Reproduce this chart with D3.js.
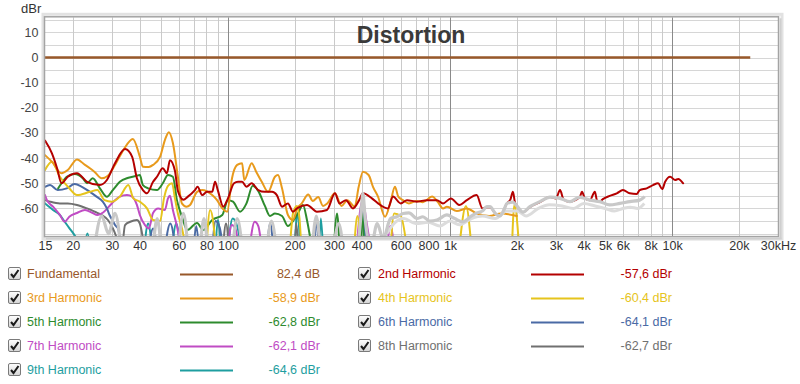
<!DOCTYPE html>
<html><head><meta charset="utf-8">
<script src="https://cdn.jsdelivr.net/npm/d3@7"></script>
<style>
html,body{margin:0;padding:0;background:#fff;}
svg{display:block;font-family:"Liberation Sans",Arial,sans-serif;}
</style></head>
<body>
<svg id="chart" width="800" height="384"></svg>
<script>
// ---------- DATA ----------
const xTickValues = [15,20,30,40,60,80,100,200,300,400,600,800,1000,2000,3000,4000,5000,6000,8000,10000,20000,30000];
const xTickLabels = ["15","20","30","40","60","80","100","200","300","400","600","800","1k","2k","3k","4k","5k","6k","8k","10k","20k","30kHz"];
const xGridMinor = [20,30,40,50,60,70,80,90,200,300,400,500,600,700,800,900,2000,3000,4000,5000,6000,7000,8000,9000,20000];
const xGridMajor = [100,1000,10000];
const yTickValues = [10,0,-10,-20,-30,-40,-50,-60];
const yGridValues = [15,10,5,0,-5,-10,-15,-20,-25,-30,-35,-40,-45,-50,-55,-60,-65,-70];

const seriesNames = ["Fundamental","2nd Harmonic","3rd Harmonic","4th Harmonic","5th Harmonic","6th Harmonic","7th Harmonic","8th Harmonic","9th Harmonic"];
const seriesValues = ["82,4 dB","-57,6 dBr","-58,9 dBr","-60,4 dBr","-62,8 dBr","-64,1 dBr","-62,1 dBr","-62,7 dBr","-64,6 dBr"];
const seriesColors = ["#98582a","#b40000","#e89a1c","#e6c41c","#2e8b2e","#4a6aa5","#c04cc4","#707070","#1e9ea0"];

const fundamental = [[15,0],[22500,0]];
const h2 = [[15,-33],[16.1,-38],[17,-44],[17.8,-50],[19,-47.4],[20.9,-46],[23.2,-49.4],[26.5,-50.7],[28.5,-48.7],[31,-42],[34.4,-36.4],[37,-39.4],[38.9,-48],[41.4,-52.7],[43.2,-54],[46,-49.4],[47.9,-47.4],[50.9,-44],[53.1,-46],[54.8,-40.8],[57.7,-45],[59.5,-53],[63,-56.5],[66,-55.3],[71,-52.7],[73,-51.4],[76.5,-54.7],[80.5,-53.4],[84.9,-53.4],[87.5,-49.4],[90,-52.7],[95.3,-59.3],[100,-56],[106.5,-50],[111,-49.4],[115.8,-49.4],[121.2,-51.4],[127.9,-50],[136.8,-52.7],[146.7,-53.4],[158,-53.4],[166,-54.7],[175.2,-59.3],[186.3,-58],[196.3,-61.3],[204.5,-60],[226.9,-58.6],[251.6,-61.3],[279.2,-60.6],[303.4,-54],[318,-58],[340,-56.7],[365.6,-60],[390,-56.7],[405.6,-54],[445,-56],[474,-58],[525,-60],[553.7,-55.3],[600,-58],[640,-56.7],[709,-57.3],[787,-56.7],[873,-56.7],[930,-58],[1010,-56],[1100,-58.6],[1191,-56.7],[1318,-54.7],[1400,-60],[1465,-59.5],[1513,-59.5],[1600,-62],[1678,-63],[1760,-60],[1803,-58],[1870,-56.5],[1920,-53.4],[1960,-57.5],[2000,-59],[2130,-61.5],[2290,-59.5],[2540,-57.5],[2820,-55.5],[3000,-56],[3130,-52.7],[3250,-56.5],[3470,-57.3],[3840,-55.5],[3930,-53.4],[4050,-56],[4270,-56.7],[4490,-53.4],[4600,-57],[4730,-57.3],[4880,-56.3],[5240,-55],[5640,-54],[6010,-52.7],[6450,-54],[6930,-54.3],[7150,-52.7],[7690,-52],[8210,-50.7],[8650,-50],[9030,-52.3],[9310,-49.4],[9800,-47.4],[10330,-48.7],[10660,-48.3],[11220,-50]];
const h3 = [[15,-38.8],[16.1,-41.4],[17.8,-46],[19,-44.7],[20.9,-40.5],[22.7,-42.7],[23.9,-44],[25.1,-45.5],[27,-48],[28.8,-47],[31,-42.7],[33.8,-36.8],[37.3,-32.4],[40.1,-39.4],[41.4,-43.4],[44,-43.5],[46,-42.7],[49.5,-39.4],[52,-32.8],[54.2,-29.7],[56.5,-34],[59.5,-47.4],[62,-58],[65,-59.3],[67.5,-58.6],[72.6,-53.4],[76.5,-52.7],[84.9,-54.7],[89.3,-56.7],[94.3,-60],[99.2,-61.3],[104.3,-48],[110,-42.7],[115.8,-42],[118.5,-48.7],[127.9,-42],[134,-45.4],[142,-49.4],[151.7,-53.4],[162.8,-47.4],[168,-46.7],[175.2,-52],[186.3,-62.6],[196.3,-64.6],[205,-60],[215,-58],[230,-54.5],[241,-57],[255,-55.5],[268,-59],[280,-58],[303,-54],[325,-59],[345,-56.7],[372,-59.3],[388,-51.4],[405.6,-45.4],[430,-46.7],[450,-51.4],[474,-55.3],[510,-63.3],[540,-57.3],[565,-51.4],[585,-55.3],[614,-56.7],[653,-58],[709,-57],[755,-57.5],[830,-55.3],[882,-57.5],[930,-60],[968,-59.3],[1074,-61],[1191,-60],[1318,-62],[1500,-63],[1700,-62],[2000,-63]];
const h4 = [[15,-44.7],[16.1,-41.4],[17.5,-47.4],[19.3,-52],[20.9,-54.7],[23.9,-53.4],[25.8,-52.7],[27.8,-56.7],[30,-57.3],[32.6,-55.3],[35.6,-50.7],[37.5,-56],[40.1,-57.3],[43.2,-60],[46,-64.6],[49.5,-65],[51.5,-56],[53.7,-51],[56,-50],[57.7,-56],[59.5,-62],[62.1,-68],[64.1,-74],null,[80,-76],[83.1,-60.6],[86,-66],[88,-76],null,[190,-76],[196.3,-62],[204.5,-59],[210,-64],[214,-76],null,[370,-76],[383,-63],[395,-76],null,[540,-76],[560,-62],[600,-63],[640,-76],null,[1100,-76],[1180,-59],[1250,-76],null,[1900,-76],[1950,-58.5],[2050,-76]];
const h5 = [[17.2,-52],[17.8,-50],[18.8,-47.4],[20.4,-46.3],[22.2,-48],[23.2,-50],[24.6,-48],[26.5,-52],[28.5,-55.4],[30.3,-52.7],[32.6,-49.4],[35.6,-47.8],[38.9,-47],[40.1,-46.7],[41.4,-50.7],[43.7,-52],[47.9,-52.7],[50.9,-50],[53.7,-46.7],[56.5,-47.4],[58.9,-56.7],[62.1,-63.3],[65.5,-68.6],[72.6,-65.8],[77.3,-68.6],[84.9,-64.6],[94.3,-62.6],[100,-56.7],[105.4,-57.3],[113.4,-61.3],[121.2,-58],[129.3,-51],[136.8,-53],[146.7,-59],[154.6,-63],[162.8,-62],[175.2,-63],[186.3,-67],[196.3,-65],[206.6,-62],[217.7,-58.6],[226.9,-64.6],[235,-72],null,[300,-76],[310,-62],[318,-76],null,[395,-76],[403,-62],[410,-76]];
const h6 = [[15,-51.4],[15.8,-50.7],[17.1,-52.7],[18.8,-52],[20.4,-50.3],[22,-51.4],[23.9,-53.4],[25.6,-55.3],[27.3,-57.3],[28.5,-60],[29.3,-62.6],[30.3,-65],[31,-66.6],[32,-68],[33,-76],null,[44,-76],[46,-68],[48,-76],null,[52,-76],[55,-66],[58,-76],null,[70,-76],[72,-67],[74,-76],null,[85,-76],[88,-65],[92,-68],[95,-76],null,[150,-76],[155,-66],[160,-76],null,[245,-76],[250,-64],[256,-76],null,[395,-76],[405,-60],[420,-76]];
const h7 = [[15,-54.7],[15.3,-56.7],[16.3,-59.3],[17.5,-62.6],[18.4,-65.3],[19.3,-63.3],[20.9,-61.8],[22.7,-60.6],[24.6,-61.8],[25.8,-62.6],[27.5,-61.5],[30,-58],[32.6,-55.3],[35.1,-54.7],[37,-55.3],[38.9,-58.6],[40.1,-62.6],[42.3,-66.6],[44,-68],[46,-61.8],[48.5,-60],[52,-60.6],[53.7,-56],[54.8,-55],[56.5,-60.6],[58.9,-67],[61,-74],null,[100,-76],[104,-66.6],[108,-68],[112,-76],null,[125,-76],[132,-65.3],[137,-67],[142,-76],null,[380,-76],[395,-60],[405,-56.7],[420,-65],[440,-76],null,[520,-76],[540,-67],[560,-76]];
const h8 = [[15,-56.7],[15.8,-57.3],[17.5,-58],[19,-58],[20.9,-58.6],[23.2,-60],[25.1,-61.3],[27,-62.6],[28.8,-64.6],[30.3,-67.8],[31.6,-72],[32.5,-76],null,[33.5,-76],[34.4,-66.6],[36.3,-65.3],[38.9,-64.6],[40.1,-66],[41.4,-72],[42,-76],null,[95,-76],[98,-66],[101,-76],null,[200,-76],[203,-66],[208,-76]];
const h9 = [[15,-58],[15.3,-58.6],[16.3,-60.6],[17.5,-62.6],[18.4,-65.3],[19.3,-67.8],[20.4,-70.7],[21.5,-74],null,[22.5,-76],[23.3,-70],[24,-76],null,[42,-76],[43.7,-66],[45.5,-76],null,[56,-76],[58.5,-66],[61,-76],null,[88,-76],[90,-64.6],[93,-76],null,[100,-76],[105,-64],[110,-67],[115,-76],null,[200,-76],[205,-62],[212,-76],null,[258,-76],[262,-64],[268,-76],null,[395,-76],[405,-60],[415,-76]];
const noiseA = [[25,-76],[27,-63],[29,-70],[31,-62],[33,-76],null,[46,-76],[48,-64],[50,-76],null,[60,-76],[63,-62],[66,-76],null,[75,-76],[78,-64],[81,-76],null,[105,-76],[110,-64],[116,-76],null,[150,-76],[157,-65],[165,-76],null,[240,-76],[250,-63],[260,-76],null,[300,-76],[315,-66],[330,-76],null,[385,-76],[398,-62],[405,-54],[415,-64],[440,-76],[470,-66],[500,-72],[540,-64],[577,-63.3],[615,-62],[653,-61.8],[710,-64],[755,-63.3],[810,-65],[873,-64.6],[968,-62.6],[1050,-64],[1140,-65.3],[1250,-63],[1318,-61.8],[1400,-61],[1465,-59.3],[1513,-59.3],[1600,-62],[1678,-63],[1760,-60],[1803,-58],[1920,-57.5],[2000,-59],[2130,-61.5],[2290,-59.3],[2540,-57.3],[2820,-55.5],[3130,-56],[3470,-57.3],[3840,-55.5],[4270,-56.7],[4730,-57.3],[5240,-58.6],[5820,-58],[6450,-57.3],[7150,-56.7],[7530,-55.3]];
const noiseB = [[520,-70],[560,-66],[620,-64],[700,-66],[800,-65.5],[900,-67],[1000,-65],[1100,-66.5],[1250,-64],[1400,-63],[1600,-64],[1800,-61],[2000,-61],[2200,-63],[2500,-60],[2800,-58.5],[3200,-59],[3600,-60],[4000,-58],[4500,-59],[5000,-60],[5500,-61],[6000,-60],[6500,-59.5],[7000,-60],[7500,-58]];

const harmonics = [h2,h3,h4,h5,h6,h7,h8,h9];

// ---------- CHART ----------
const svg = d3.select("#chart");
const L = 44, R = 778, T = 17.3, B = 236.1;
const x = d3.scaleLog().domain([15,30000]).range([45,778]);
const y = d3.scaleLinear().domain([16,-71]).range([T,B]);

// frame shadow
svg.append("rect").attr("x",L-1).attr("y",T-3).attr("width",R-L+5).attr("height",B-T+6)
  .attr("fill","none").attr("stroke","#e2e2e2").attr("stroke-width",3);
svg.append("rect").attr("x",L).attr("y",T).attr("width",R-L).attr("height",B-T).attr("fill","#fff");

// grid
const grid = svg.append("g");
grid.selectAll("line.h").data(yGridValues).join("line")
  .attr("x1",L).attr("x2",R).attr("y1",d=>Math.round(y(d))+0.5).attr("y2",d=>Math.round(y(d))+0.5)
  .attr("stroke","#d6d6d6").attr("stroke-width",1);
grid.selectAll("line.vm").data(xGridMinor).join("line")
  .attr("x1",d=>Math.round(x(d))+0.5).attr("x2",d=>Math.round(x(d))+0.5).attr("y1",T).attr("y2",B)
  .attr("stroke","#cacaca").attr("stroke-width",1);
grid.selectAll("line.vM").data(xGridMajor).join("line")
  .attr("x1",d=>Math.round(x(d))+0.5).attr("x2",d=>Math.round(x(d))+0.5).attr("y1",T).attr("y2",B)
  .attr("stroke","#8a8a8a").attr("stroke-width",1);

// clip
svg.append("clipPath").attr("id","plotclip").append("rect")
  .attr("x",L).attr("y",T).attr("width",R-L).attr("height",B-T);
const plot = svg.append("g").attr("clip-path","url(#plotclip)");

const line = d3.line()
  .defined(d => d !== null && d[1] !== null)
  .x(d => x(d[0])).y(d => y(d[1]))
  .curve(d3.curveMonotoneX);

// harmonics, drawn 9th first
for (let i = harmonics.length - 1; i >= 0; i--) {
  plot.append("path").datum(harmonics[i]).attr("d",line)
    .attr("fill","none").attr("stroke",seriesColors[i+1]).attr("stroke-width",2)
    .attr("stroke-linejoin","round").attr("stroke-linecap","round");
}
plot.append("path").datum(noiseB).attr("d",line).attr("fill","none")
  .attr("stroke","#dcdcdc").attr("stroke-width",3).attr("stroke-linejoin","round");
plot.append("path").datum(noiseA).attr("d",line).attr("fill","none")
  .attr("stroke","#c8c8c8").attr("stroke-width",3.2).attr("stroke-linejoin","round");
plot.append("path").datum(fundamental).attr("d",line).attr("fill","none")
  .attr("stroke",seriesColors[0]).attr("stroke-width",2.5);

// frame border
svg.append("rect").attr("x",L+0.5).attr("y",T-0.5).attr("width",R-L).attr("height",B-T+1)
  .attr("fill","none").attr("stroke","#a4a4a4").attr("stroke-width",1.5);
svg.append("line").attr("x1",R+2.5).attr("x2",R+2.5).attr("y1",T+1).attr("y2",B+3)
  .attr("stroke","#cfcfcf").attr("stroke-width",2);
svg.append("line").attr("x1",L+2).attr("x2",R+3.5).attr("y1",B+2.5).attr("y2",B+2.5)
  .attr("stroke","#cfcfcf").attr("stroke-width",2);

// axes
const xAxis = d3.axisBottom(x).tickValues(xTickValues)
  .tickFormat((d,i)=>xTickLabels[i]).tickSize(0).tickPadding(0);
const gx = svg.append("g").attr("transform",`translate(0,${B+5})`).call(xAxis);
gx.select(".domain").remove();
gx.selectAll("text").attr("font-size","12.5px").attr("fill","#333")
  .attr("font-family","'Liberation Sans',Arial,sans-serif").attr("dy","0.71em");

const yAxis = d3.axisLeft(y).tickValues(yTickValues).tickSize(0).tickPadding(0)
  .tickFormat(d => String(d));
const gy = svg.append("g").attr("transform",`translate(38.5,0)`).call(yAxis);
gy.select(".domain").remove();
gy.selectAll("text").attr("font-size","12.5px").attr("fill","#444")
  .attr("font-family","'Liberation Sans',Arial,sans-serif");

svg.append("text").attr("x",21).attr("y",13).attr("font-size","13px").attr("fill","#333").text("dBr");
svg.append("text").attr("x",411).attr("y",43).attr("text-anchor","middle")
  .attr("font-size","23px").attr("font-weight","bold").attr("fill","#3a3a3a").text("Distortion");

// legend
const defs = svg.append("defs");
const grad = defs.append("linearGradient").attr("id","cbg").attr("x1",0).attr("y1",0).attr("x2",0).attr("y2",1);
grad.append("stop").attr("offset","0").attr("stop-color","#ffffff");
grad.append("stop").attr("offset","1").attr("stop-color","#d4d4d4");

const colX = [{box:8,label:27,l1:180,l2:233,val:320},{box:358,label:378,l1:531,l2:584,val:672}];
seriesNames.forEach((name,i)=>{
  const c = colX[i%2];
  const cy = 274 + Math.floor(i/2)*24;
  const g = svg.append("g");
  g.append("rect").attr("x",c.box+0.5).attr("y",cy-6.5).attr("width",12).attr("height",12).attr("rx",1.5)
    .attr("fill","url(#cbg)").attr("stroke","#7a7a7a");
  g.append("path").attr("d",`M${c.box+3},${cy} L${c.box+5.5},${cy+3} L${c.box+10.5},${cy-4}`)
    .attr("fill","none").attr("stroke","#1a1a1a").attr("stroke-width",2);
  g.append("text").attr("x",c.label).attr("y",cy).attr("dy","0.35em").attr("font-size","12.5px")
    .attr("fill",seriesColors[i]).text(name);
  g.append("line").attr("x1",c.l1).attr("x2",c.l2).attr("y1",cy+0.5).attr("y2",cy+0.5)
    .attr("stroke",seriesColors[i]).attr("stroke-width",2);
  g.append("text").attr("x",c.val).attr("y",cy).attr("dy","0.35em").attr("text-anchor","end")
    .attr("font-size","12.5px").attr("fill",seriesColors[i]).text(seriesValues[i]);
});
</script>
</body></html>
